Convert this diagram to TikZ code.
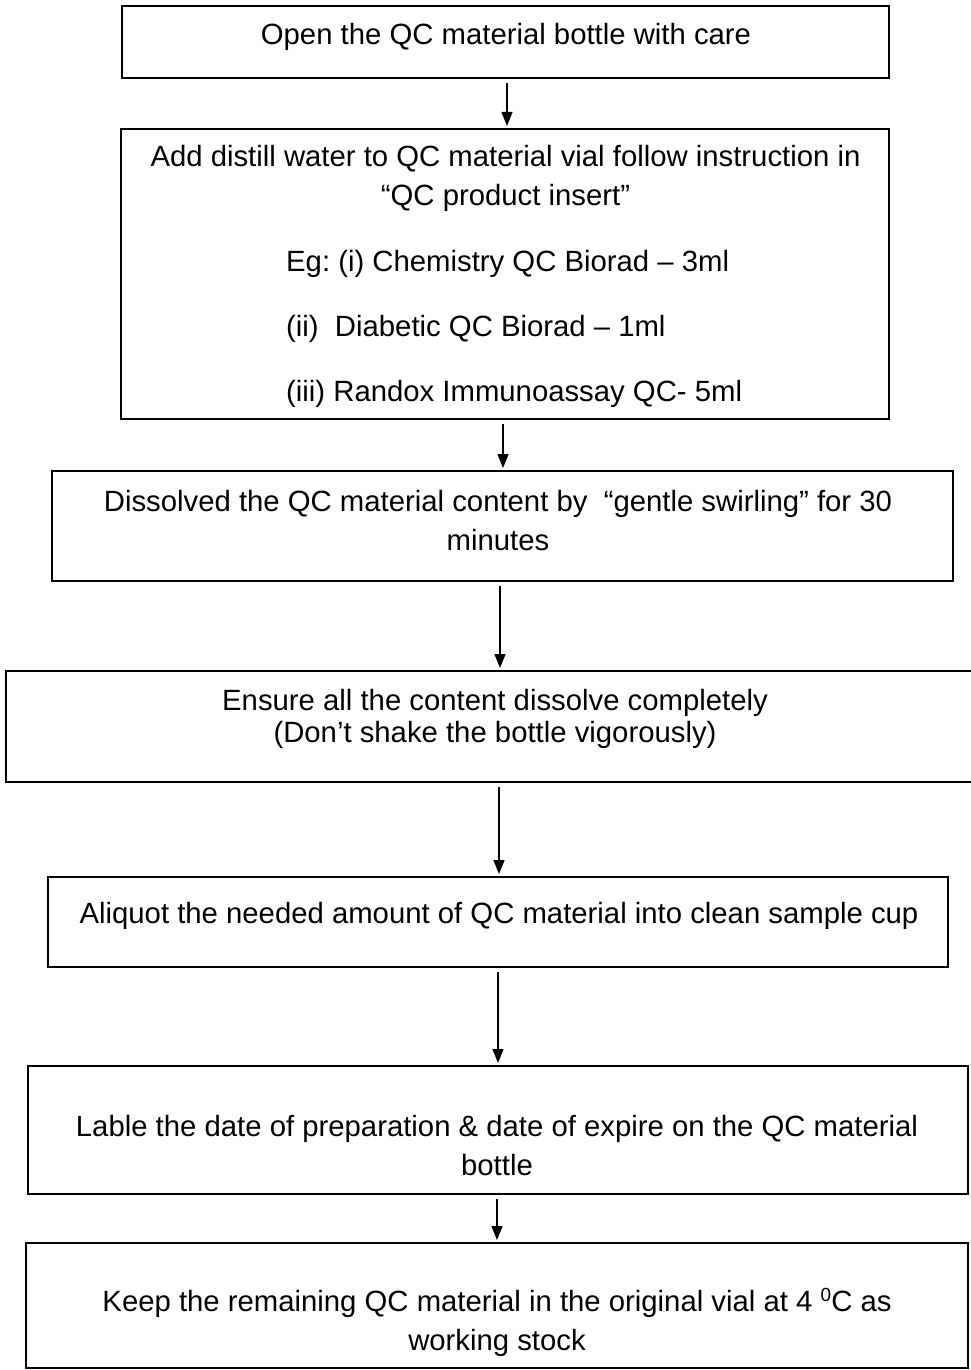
\documentclass[tikz,border=0pt]{standalone}
\usepackage{fontspec}
\setmainfont{Liberation Sans}
\usetikzlibrary{arrows.meta}
\frenchspacing
\tikzset{
  box/.style={draw, line width=1.5pt, inner sep=0pt, outer sep=0pt},
  txt/.style={font=\fontsize{29.3}{39}\selectfont, align=center, inner sep=0pt},
  arr/.style={line width=1.3pt, -{Triangle[width=11pt,length=14pt]}, shorten <=5pt, shorten >=3pt}
}
\newcommand{\supzero}{\raisebox{10pt}{\fontsize{19}{19}\selectfont 0}}
\begin{document}
\begin{tikzpicture}[x=1pt,y=-1pt]
\useasboundingbox[fill=white] (0,0) rectangle (971,1370);
% boxes
\node[box, minimum width=767pt, minimum height=72pt] (b1) at (505.5,42) {};
\node[box, minimum width=768pt, minimum height=290pt] (b2) at (505,274) {};
\node[box, minimum width=901pt, minimum height=110pt] (b3) at (502.5,526) {};
\node[box, minimum width=969pt, minimum height=111pt] (b4) at (490.5,726.5) {};
\node[box, minimum width=900pt, minimum height=90pt] (b5) at (498,922) {};
\node[box, minimum width=940pt, minimum height=128pt] (b6) at (498,1130) {};
\node[box, minimum width=942pt, minimum height=125pt] (b7) at (497,1305.5) {};
% texts
\node[txt] (t1) at (506,36.5) {Open the QC material bottle with care};
\node[txt] (t2a) at (505.5,178.5) {Add distill water to QC material vial follow instruction in\\“QC product insert”};
\node[txt, align=left, anchor=west, font=\fontsize{29.3}{65}\selectfont] (t2b) at (286,329) {Eg: (i) Chemistry QC Biorad – 3ml\\(ii)\ \ Diabetic QC Biorad – 1ml\\(iii) Randox Immunoassay QC- 5ml};
\node[txt] (t3) at (498,520.5) {Dissolved the QC material content by\ \ “gentle swirling” for 30\\minutes};
\node[txt, font=\fontsize{29.3}{32}\selectfont] (t4) at (495,718.5) {Ensure all the content dissolve completely\\(Don’t shake the bottle vigorously)};
\node[txt] (t5) at (499,916) {Aliquot the needed amount of QC material into clean sample cup};
\node[txt] (t6) at (497,1146) {Lable the date of preparation \& date of expire on the QC material\\bottle};
\node[txt] (t7) at (497,1322) {Keep the remaining QC material in the original vial at 4 \supzero C as\\working stock};
% arrows
\draw[arr] ([xshift=1.5pt]b1.south) -- ([xshift=1.5pt]b1.south |- b2.north);
\draw[arr] ([xshift=-2pt]b2.south) -- ([xshift=-2pt]b2.south |- b3.north);
\draw[arr] ([xshift=-2.5pt]b3.south) -- ([xshift=-2.5pt]b3.south |- b4.north);
\draw[arr] ([xshift=8.5pt]b4.south) -- ([xshift=8.5pt]b4.south |- b5.north);
\draw[arr] (b5.south) -- (b5.south |- b6.north);
\draw[arr] ([xshift=-1pt]b6.south) -- ([xshift=-1pt]b6.south |- b7.north);
\end{tikzpicture}
\end{document}
